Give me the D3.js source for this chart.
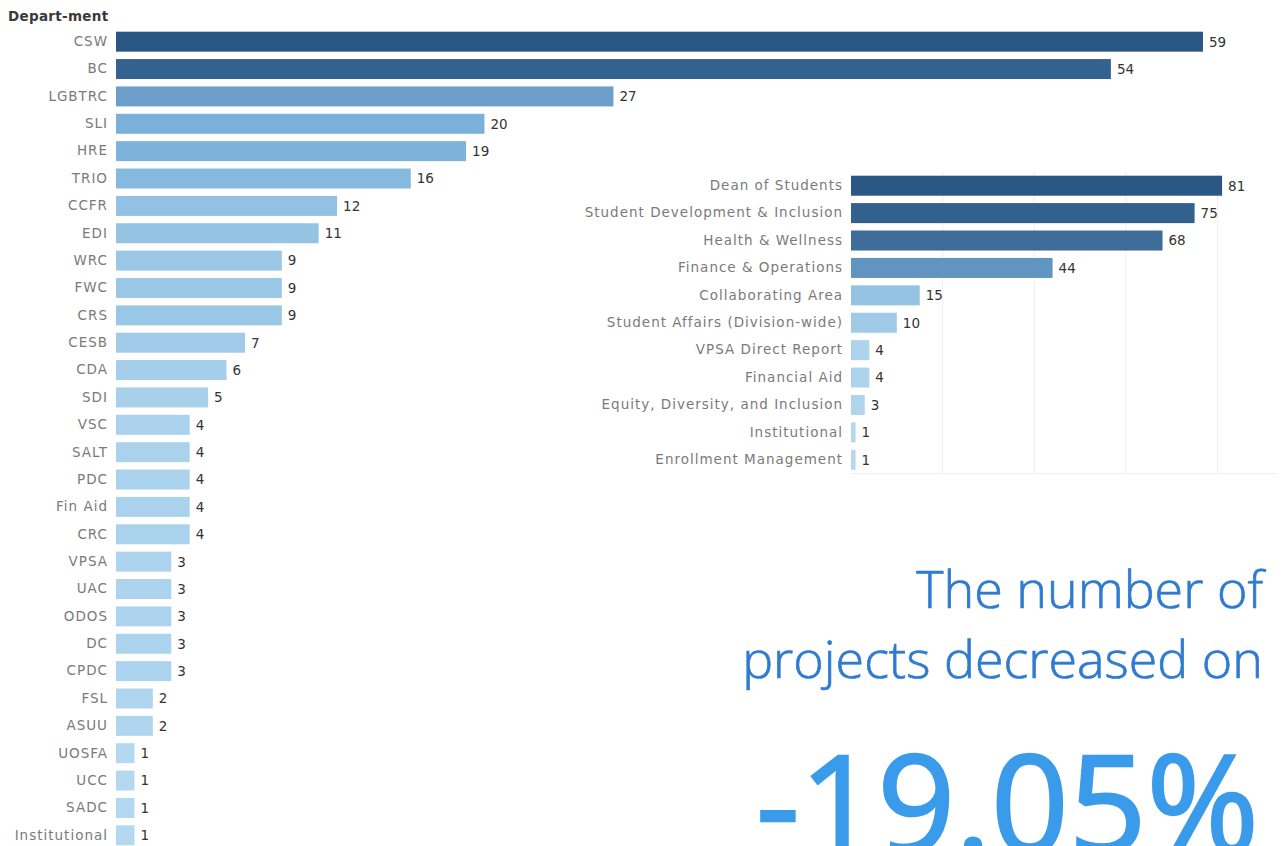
<!DOCTYPE html>
<html>
<head>
<meta charset="utf-8">
<script src="https://cdn.jsdelivr.net/npm/d3@7"></script>
<style>
  html, body { margin: 0; padding: 0; background: #fff; overflow: hidden; }
  svg { display: block; font-family: "DejaVu Sans", sans-serif; }
</style>
</head>
<body>
<div id="chart"></div>
<script>
// departments (left chart)
var deptNames = ["CSW", "BC", "LGBTRC", "SLI", "HRE", "TRIO", "CCFR", "EDI", "WRC", "FWC", "CRS", "CESB", "CDA", "SDI",
  "VSC", "SALT", "PDC", "Fin Aid", "CRC", "VPSA", "UAC", "ODOS", "DC", "CPDC", "FSL", "ASUU", "UOSFA", "UCC", "SADC", "Institutional"];
var deptCounts = [59, 54, 27, 20, 19, 16, 12, 11, 9, 9, 9, 7, 6, 5, 4, 4, 4, 4, 4, 3, 3, 3, 3, 3, 2, 2, 1, 1, 1, 1];

// areas (right chart)
var areaNames = ["Dean of Students", "Student Development & Inclusion", "Health & Wellness", "Finance & Operations",
  "Collaborating Area", "Student Affairs (Division-wide)", "VPSA Direct Report", "Financial Aid",
  "Equity, Diversity, and Inclusion", "Institutional", "Enrollment Management"];
var areaCounts = [81, 75, 68, 44, 15, 10, 4, 4, 3, 1, 1];
var areaTicks = [20, 40, 60, 80];

var headline = ["The number of", "projects decreased on"];
var pctChange = "-19.05%";

var svgWidth = 1282;
var svgHeight = 846;

var svg = d3.select("#chart")
  .append("svg")
  .attr("width", svgWidth)
  .attr("height", svgHeight);

// blue ramp like tableau, light for small values dark for big ones
function colorScale(maxVal) {
  return d3.scaleLinear()
    .domain([1, 1 + (maxVal - 1) * 0.33, maxVal])
    .range(["#b3d8f0", "#7ab0d9", "#2a5783"]);
}

// ---------- left chart ----------
var leftData = deptNames.map((d, i) => ({ name: d, value: deptCounts[i] }));

var yLeft = d3.scaleBand()
  .domain(deptNames)
  .range([28, 849])
  .paddingInner(0.27)
  .paddingOuter(0.135);

var xLeft = d3.scaleLinear()
  .domain([0, 59])
  .range([116, 1203]);

var leftColor = colorScale(d3.max(deptCounts));

var leftGroup = svg.append("g");

leftGroup.append("text")
  .attr("x", 8)
  .attr("y", 21)
  .attr("font-size", "13.5px")
  .attr("font-weight", "bold")
  .attr("letter-spacing", "0.3px")
  .attr("fill", "#3a3a3a")
  .text("Depart-ment");

var leftAxis = d3.axisLeft(yLeft).tickSize(0).tickPadding(8);
leftGroup.append("g")
  .attr("transform", `translate(${xLeft(0)},0)`)
  .call(leftAxis)
  .call(g => g.select(".domain").remove())
  .selectAll("text")
  .attr("font-size", "13.5px")
  .attr("font-family", "DejaVu Sans")
  .attr("letter-spacing", "1px")
  .attr("fill", "#7a7a7a");

leftGroup.selectAll("rect")
  .data(leftData)
  .enter()
  .append("rect")
  .attr("x", xLeft(0))
  .attr("y", d => yLeft(d.name))
  .attr("width", d => xLeft(d.value) - xLeft(0))
  .attr("height", yLeft.bandwidth())
  .attr("fill", d => leftColor(d.value));

leftGroup.selectAll(".val")
  .data(leftData)
  .enter()
  .append("text")
  .classed("val", true)
  .attr("x", d => xLeft(d.value) + 6)
  .attr("y", d => yLeft(d.name) + yLeft.bandwidth() / 2)
  .attr("dy", "0.36em")
  .attr("font-size", "13.5px")
  .attr("fill", "#333")
  .text(d => d.value);

// ---------- right chart ----------
var rightData = areaNames.map((d, i) => ({ name: d, value: areaCounts[i] }));

var yRight = d3.scaleBand()
  .domain(areaNames)
  .range([172, 473.5])
  .paddingInner(0.27)
  .paddingOuter(0.135);

var xRight = d3.scaleLinear()
  .domain([0, 80])
  .range([851, 1217.5]);

var rightColor = colorScale(d3.max(areaCounts));

var rightGroup = svg.append("g");

// faint gridlines
rightGroup.selectAll(".grid")
  .data(areaTicks)
  .enter()
  .append("line")
  .attr("x1", d => xRight(d))
  .attr("x2", d => xRight(d))
  .attr("y1", yRight.range()[0])
  .attr("y2", yRight.range()[1])
  .attr("stroke", "#eeeeee")
  .attr("stroke-width", 1);

rightGroup.append("line")
  .attr("x1", xRight(0))
  .attr("x2", 1277)
  .attr("y1", yRight.range()[1])
  .attr("y2", yRight.range()[1])
  .attr("stroke", "#f0f0f0");

rightGroup.append("g")
  .attr("transform", `translate(${xRight(0)},0)`)
  .call(d3.axisLeft(yRight).tickSize(0).tickPadding(8))
  .call(g => g.select(".domain").remove())
  .selectAll("text")
  .attr("font-size", "13.5px")
  .attr("font-family", "DejaVu Sans")
  .attr("letter-spacing", "1px")
  .attr("fill", "#7a7a7a");

rightGroup.selectAll("rect")
  .data(rightData)
  .enter()
  .append("rect")
  .attr("x", xRight(0))
  .attr("y", d => yRight(d.name))
  .attr("width", d => xRight(d.value) - xRight(0))
  .attr("height", yRight.bandwidth())
  .attr("fill", d => rightColor(d.value));

rightGroup.selectAll(".val")
  .data(rightData)
  .enter()
  .append("text")
  .classed("val", true)
  .attr("x", d => xRight(d.value) + 6)
  .attr("y", d => yRight(d.name) + yRight.bandwidth() / 2)
  .attr("dy", "0.36em")
  .attr("font-size", "13.5px")
  .attr("fill", "#333")
  .text(d => d.value);

// ---------- big callout text ----------
var callout = svg.append("g")
  .attr("text-anchor", "end")
  .attr("font-family", "Open Sans");

// light weight with a thin stroke, sits between light and regular
callout.selectAll(".head")
  .data(headline)
  .enter()
  .append("text")
  .classed("head", true)
  .attr("x", 1263)
  .attr("y", (d, i) => 608 + i * 70)
  .attr("font-size", "52px")
  .attr("font-weight", 300)
  .attr("fill", "#2f7bd0")
  .attr("stroke", "#2f7bd0")
  .attr("stroke-width", 0.7)
  .text(d => d);

callout.append("text")
  .attr("x", 1259)
  .attr("y", 853)
  .attr("font-size", "136px")
  .attr("font-weight", 400)
  .attr("fill", "#3a9bea")
  .attr("stroke", "#3a9bea")
  .attr("stroke-width", 2.5)
  .text(pctChange);
</script>
</body>
</html>
